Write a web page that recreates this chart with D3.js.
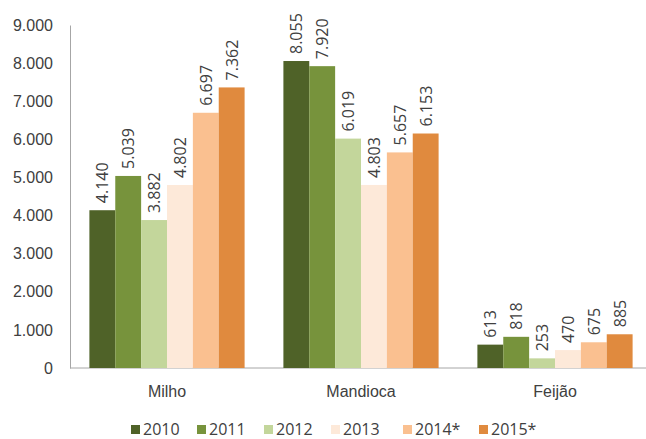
<!DOCTYPE html>
<html>
<head>
<meta charset="utf-8">
<script src="https://cdn.jsdelivr.net/npm/d3@7"></script>
<style>
  html, body { margin: 0; padding: 0; background: #fff; }
  svg { display: block; font-family: "Open Sans", "DejaVu Sans", sans-serif; }
</style>
</head>
<body>
<svg id="chart" width="646" height="439"></svg>
<script>
// Produção por cultura (toneladas), 2010–2015
const categories = ["Milho", "Mandioca", "Feijão"];
const years = ["2010", "2011", "2012", "2013", "2014*", "2015*"];
const values2010 = [4140, 8055, 613];
const values2011 = [5039, 7920, 818];
const values2012 = [3882, 6019, 253];
const values2013 = [4802, 4803, 470];
const values2014 = [6697, 5657, 675];
const values2015 = [7362, 6153, 885];
const yTicks = [0, 1000, 2000, 3000, 4000, 5000, 6000, 7000, 8000, 9000];
const colors = ["#4f6228", "#77933c", "#c3d69b", "#fde9d9", "#fac090", "#e08a3e"];

const seriesValues = [values2010, values2011, values2012, values2013, values2014, values2015];

const svg = d3.select("#chart");
const margin = { left: 70, right: 646, top: 25, bottom: 368 };
const fontSize = "16px";
const textColor = "#404040";

const fmt = v => d3.format(",")(v).replace(/,/g, ".");

const y = d3.scaleLinear().domain([0, 9000]).range([margin.bottom, margin.top]);
const x0 = d3.scaleBand().domain(categories).range([margin.left, 652])
  .paddingInner(0.2).paddingOuter(0.1);
const x1 = d3.scaleBand().domain(years).range([0, x0.bandwidth()]);

// Eixo Y: rótulos
const yAxis = svg.append("g")
  .attr("transform", `translate(${margin.left},0)`)
  .call(d3.axisLeft(y).tickValues(yTicks).tickFormat(fmt).tickSize(0).tickPadding(17));
yAxis.select(".domain").attr("stroke", "#a6a6a6");
yAxis.selectAll("text").attr("font-size", fontSize).attr("fill", textColor);

// Linha de base
svg.append("line")
  .attr("x1", margin.left).attr("x2", 646)
  .attr("y1", y(0)).attr("y2", y(0))
  .attr("stroke", "#a6a6a6").attr("stroke-width", 1);

// Barras agrupadas
const groups = svg.append("g").selectAll("g")
  .data(categories)
  .join("g")
  .attr("transform", d => `translate(${x0(d)},0)`);

groups.selectAll("rect")
  .data((d, i) => years.map((yr, s) => ({ yr, s, v: seriesValues[s][i] })))
  .join("rect")
  .attr("x", d => x1(d.yr))
  .attr("y", d => y(d.v))
  .attr("width", x1.bandwidth())
  .attr("height", d => y(0) - y(d.v))
  .attr("fill", d => colors[d.s]);

// Rótulos de valor, verticais
groups.selectAll("text.val")
  .data((d, i) => years.map((yr, s) => ({ yr, s, v: seriesValues[s][i] })))
  .join("text")
  .attr("class", "val")
  .attr("transform", d => `translate(${x1(d.yr) + x1.bandwidth() / 2 + 6},${y(d.v) - 7}) rotate(-90)`)
  .attr("text-anchor", "start")
  .attr("font-size", fontSize)
  .attr("fill", textColor)
  .text(d => fmt(d.v));

// Rótulos das categorias
const xAxis = svg.append("g")
  .attr("transform", `translate(0,${y(0)})`)
  .call(d3.axisBottom(x0).tickSize(0).tickPadding(18));
xAxis.select(".domain").remove();
xAxis.selectAll("text").attr("font-size", fontSize).attr("fill", textColor);

// Legenda
const legendX = [131, 197, 264, 331, 403, 479];
const legend = svg.append("g").selectAll("g")
  .data(years)
  .join("g")
  .attr("transform", (d, i) => `translate(${legendX[i]},435)`);
legend.append("rect")
  .attr("x", 0).attr("y", -10).attr("width", 9).attr("height", 9)
  .attr("fill", (d, i) => colors[i]);
legend.append("text")
  .attr("x", 12).attr("y", 0)
  .attr("font-size", fontSize)
  .attr("fill", textColor)
  .text(d => d);
</script>
</body>
</html>
